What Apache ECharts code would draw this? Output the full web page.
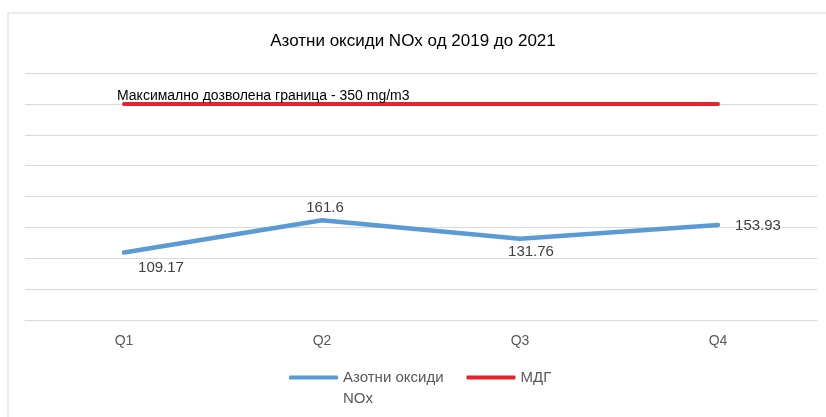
<!DOCTYPE html>
<html>
<head>
<meta charset="utf-8">
<script src="https://cdn.jsdelivr.net/npm/echarts@6/dist/echarts.min.js"></script>
<style>
  html, body { margin: 0; padding: 0; background: #fff; }
  #chart { width: 826px; height: 417px; }
</style>
</head>
<body>
<div id="chart"></div>
<script>
var categories = ['Q1', 'Q2', 'Q3', 'Q4'];
var noxValues = [109.17, 161.6, 131.76, 153.93];
var limitValues = [350, 350, 350, 350];
var limitText = 'Максимално дозволена граница - 350 mg/m3';

// label placement per point, as in the original
var noxLabelPos = [
    { position: 'bottom', offset: [37, 3] },
    { position: 'top', offset: [3, 0] },
    { position: 'bottom', offset: [11, 1] },
    { position: 'right', offset: [12, 1] }
];

var chart = echarts.init(document.getElementById('chart'));

var noxData = noxValues.map(function (v, i) {
    return { value: v, label: noxLabelPos[i] };
});
var limitData = limitValues.map(function (v, i) {
    if (i === 0) {
        return {
            value: v,
            label: {
                show: true, position: 'top', align: 'left', offset: [-7, 4],
                formatter: limitText, color: '#000', fontSize: 14,
                fontFamily: 'Liberation Sans, Arial, sans-serif'
            }
        };
    }
    return v;
});

var option = {
    animation: false,
    backgroundColor: '#fff',
    title: {
        text: 'Азотни оксиди NOx од 2019 до 2021',
        left: 'center',
        top: 33,
        padding: 0,
        textStyle: { color: '#000', fontSize: 17, fontWeight: 'normal', fontFamily: 'Liberation Sans, Arial, sans-serif' }
    },
    graphic: [{
        type: 'rect',
        shape: { x: 8, y: 13, width: 830, height: 420 },
        style: { fill: 'none', stroke: '#d9d9d9', lineWidth: 1 },
        silent: true
    }],
    legend: {
        left: 289,
        top: 346,
        padding: 0,
        icon: 'roundRect',
        itemWidth: 49,
        itemHeight: 4,
        itemGap: 23,
        formatter: function (name) {
            // blank first line keeps the icon level with the first text line
            return name === 'Азотни оксиди NOx' ? ' \nАзотни оксиди\nNOx' : name;
        },
        textStyle: { color: '#595959', fontSize: 15, lineHeight: 21, fontFamily: 'Liberation Sans, Arial, sans-serif' },
        data: ['Азотни оксиди NOx', 'МДГ']
    },
    grid: { left: 25, right: 9, top: 73, bottom: 97 },
    xAxis: {
        type: 'category',
        data: categories,
        boundaryGap: true,
        axisLine: { lineStyle: { color: '#d9d9d9' } },
        axisTick: { show: false },
        axisLabel: { color: '#595959', fontSize: 14, margin: 14, fontFamily: 'Liberation Sans, Arial, sans-serif' }
    },
    yAxis: {
        type: 'value',
        min: 0,
        max: 400,
        interval: 50,
        axisLine: { show: false },
        axisTick: { show: false },
        axisLabel: { show: false },
        splitLine: { lineStyle: { color: '#d9d9d9' } }
    },
    series: [
        {
            name: 'Азотни оксиди NOx',
            type: 'line',
            data: noxData,
            symbol: 'circle',
            symbolSize: 0.1,
            lineStyle: { color: '#5B9BD5', width: 4.5, cap: 'round' },
            itemStyle: { color: '#5B9BD5' },
            label: { show: true, color: '#404040', fontSize: 15, fontFamily: 'Liberation Sans, Arial, sans-serif' }
        },
        {
            name: 'МДГ',
            type: 'line',
            data: limitData,
            symbol: 'circle',
            symbolSize: 0.1,
            lineStyle: { color: '#E3242B', width: 4, cap: 'round' },
            itemStyle: { color: '#E3242B' },
            label: { show: false }
        }
    ]
};
chart.setOption(option);
</script>
</body>
</html>
